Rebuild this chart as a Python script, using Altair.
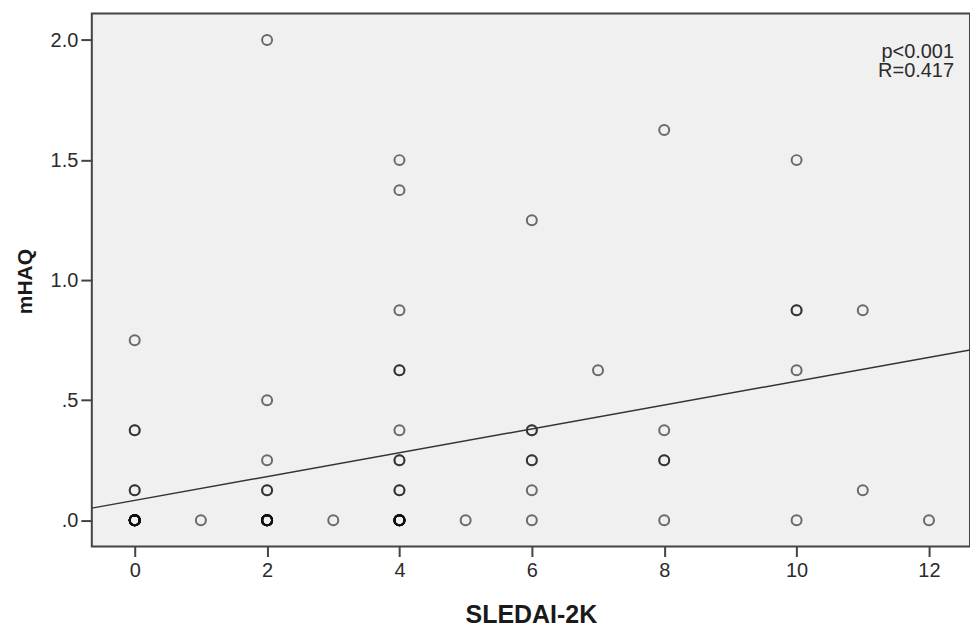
import altair as alt
import pandas as pd

# SLEDAI-2K score and mHAQ for each patient (repeated pairs overlap on the plot)
sledai = (
    [0] * 16 + [0, 0, 0, 0, 0]
    + [1]
    + [2] * 12 + [2, 2, 2, 2, 2]
    + [3]
    + [4] * 10 + [4] * 10
    + [5]
    + [6] * 7
    + [7]
    + [8] * 5
    + [10] * 5
    + [11, 11]
    + [12]
)
mhaq = (
    [0.0] * 16 + [0.75, 0.375, 0.375, 0.125, 0.125]
    + [0.0]
    + [0.0] * 12 + [2.0, 0.5, 0.25, 0.125, 0.125]
    + [0.0]
    + [0.0] * 10 + [1.5, 1.375, 0.875, 0.625, 0.625, 0.375, 0.25, 0.25, 0.125, 0.125]
    + [0.0]
    + [1.25, 0.375, 0.375, 0.25, 0.25, 0.125, 0.0]
    + [0.625]
    + [1.625, 0.375, 0.25, 0.25, 0.0]
    + [1.5, 0.875, 0.875, 0.625, 0.0]
    + [0.875, 0.125]
    + [0.0]
)

x_ticks = [0, 2, 4, 6, 8, 10, 12]
y_ticks = [0.0, 0.5, 1.0, 1.5, 2.0]
x_domain = [-0.648, 12.62]
y_domain = [-0.109, 2.11]
p_text = "p<0.001"
r_text = "R=0.417"

df = pd.DataFrame({"SLEDAI": sledai, "mHAQ": mhaq})

FONT = "Liberation Sans"
INK = "#444444"
TEXT = "#2b2b2b"

x_enc = alt.X(
    "SLEDAI:Q",
    scale=alt.Scale(domain=x_domain, nice=False, zero=False),
    axis=alt.Axis(
        title="SLEDAI-2K",
        values=x_ticks,
        format="d",
        grid=False,
        domain=False,
        tickSize=10,
        tickWidth=2,
        tickColor=INK,
        labelFontSize=20,
        labelColor=TEXT,
        labelPadding=4,
        titleFontSize=25,
        titleFontWeight="bold",
        titleColor="#1a1a1a",
        titleBaseline="alphabetic",
        titleY=76,
    ),
)
y_enc = alt.Y(
    "mHAQ:Q",
    scale=alt.Scale(domain=y_domain, nice=False, zero=False),
    axis=alt.Axis(
        title="mHAQ",
        values=y_ticks,
        grid=False,
        domain=False,
        tickSize=11,
        tickWidth=2,
        tickColor=INK,
        labelFontSize=20,
        labelColor=TEXT,
        labelPadding=3,
        labelExpr="replace(format(datum.value, '.1f'), /^0/, '')",
        titleFontSize=21,
        titleFontWeight="bold",
        titleColor="#1a1a1a",
        titleAngle=270,
        titleAlign="center",
        titleBaseline="alphabetic",
        titleX=-60,
        titleY=268,
    ),
)

base = alt.Chart(df)

points = base.mark_point(
    shape="circle",
    filled=False,
    size=100,
    strokeWidth=2,
    color="#111111",
    strokeOpacity=0.85,
).encode(x=x_enc, y=y_enc)

fit = base.transform_regression(
    "SLEDAI", "mHAQ", extent=x_domain
).mark_line(color="#333333", strokeWidth=1.5, clip=True).encode(
    x="SLEDAI:Q", y="mHAQ:Q"
)


def note(text, y):
    return alt.Chart(pd.DataFrame({"t": [text]})).mark_text(
        align="right",
        baseline="alphabetic",
        font=FONT,
        fontSize=20,
        color=TEXT,
    ).encode(x=alt.value(864), y=alt.value(y), text="t")


chart = (
    alt.layer(points, fit, note(p_text, 44), note(r_text, 64))
    .properties(
        width=880,
        height=534,
        padding={"left": 92, "top": 13, "right": 0, "bottom": 81},
        autosize=alt.AutoSizeParams(type="none"),
        background="white",
    )
    .configure_view(fill="#f0f0f0", stroke=INK, strokeWidth=2)
    .configure_axis(labelFont=FONT, titleFont=FONT)
)

chart.save("out.html", embed_options={"renderer": "svg", "actions": False})
